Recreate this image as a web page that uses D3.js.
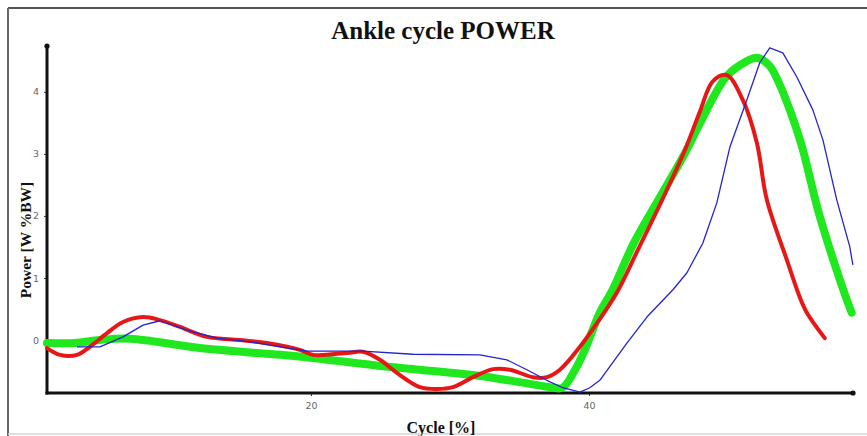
<!DOCTYPE html>
<html>
<head>
<meta charset="utf-8">
<script src="https://cdn.jsdelivr.net/npm/d3@7"></script>
<style>
  html, body { margin: 0; padding: 0; background: #fff; }
  svg { display: block; }
</style>
</head>
<body>
<svg id="chart" width="867" height="436"></svg>
<script>
// Ankle power over the gait cycle: cycle [%] against power [W %BW]
const greenCycle = [1, 3, 4.8, 7, 12, 17.8, 20.1, 25, 27.8, 32.2, 35, 37.2, 38.1, 39, 39.7, 40.8, 41.7, 43.2, 45.1, 47, 48, 49.9, 51.4, 52.1, 53, 53.7, 54.5, 55.3, 56.6, 58.3, 58.9];
const greenPower = [-0.05, -0.05, 0, 0.02, -0.13, -0.24, -0.29, -0.42, -0.48, -0.58, -0.68, -0.76, -0.77, -0.48, -0.16, 0.45, 0.81, 1.55, 2.3, 3.05, 3.5, 4.25, 4.5, 4.55, 4.42, 4.13, 3.68, 3.14, 2.0, 0.81, 0.44];

const redCycle = [1, 1.94, 3.16, 4.09, 5.32, 6.47, 7.91, 9.13, 10.57, 12.51, 14.88, 16.83, 19.2, 20.14, 22.58, 23.73, 24.96, 26.18, 27.83, 29.06, 30.21, 31.65, 33.09, 34.31, 35.96, 36.97, 37.91, 39.35, 40.64, 42.0, 43.45, 45.1, 46.9, 47.98, 48.91, 49.92, 51.07, 52.08, 52.8, 54.24, 55.17, 55.68, 56.97];
const redPower = [-0.13, -0.24, -0.24, -0.11, 0.11, 0.29, 0.37, 0.32, 0.21, 0.05, 0, -0.05, -0.16, -0.24, -0.21, -0.19, -0.32, -0.53, -0.76, -0.79, -0.76, -0.6, -0.47, -0.48, -0.6, -0.6, -0.48, -0.11, 0.29, 0.76, 1.42, 2.18, 3.06, 3.68, 4.17, 4.27, 3.87, 3.18, 2.26, 1.29, 0.69, 0.44, 0.03];

const blueCycle = [3.16, 4.81, 6.47, 7.91, 9.13, 11.07, 13.23, 15.6, 17.76, 19.71, 23.73, 27.33, 32.15, 34.09, 35.53, 36.97, 38.12, 39.35, 40.06, 40.78, 42.73, 44.17, 46.04, 47.04, 48.19, 49.2, 50.14, 51.36, 52.29, 53.01, 53.95, 54.96, 56.11, 56.83, 57.83, 58.77, 58.99];
const bluePower = [-0.11, -0.11, 0.05, 0.24, 0.31, 0.16, 0.03, -0.03, -0.11, -0.18, -0.18, -0.23, -0.24, -0.32, -0.48, -0.65, -0.77, -0.84, -0.77, -0.65, -0.05, 0.37, 0.81, 1.08, 1.56, 2.21, 3.11, 3.87, 4.47, 4.71, 4.63, 4.24, 3.71, 3.23, 2.26, 1.5, 1.21];

const xTicks = [20, 40];
const yTicks = [0, 1, 2, 3, 4];

const svg = d3.select("#chart");

// outer frame
svg.append("line").attr("x1", 8).attr("x2", 867).attr("y1", 8).attr("y2", 8)
  .attr("stroke", "#555").attr("stroke-width", 2);
svg.append("line").attr("x1", 8).attr("x2", 8).attr("y1", 8).attr("y2", 436)
  .attr("stroke", "#666").attr("stroke-width", 2);
svg.append("line").attr("x1", 8).attr("x2", 867).attr("y1", 434).attr("y2", 434)
  .attr("stroke", "#d4d4d4").attr("stroke-width", 1.5);

const x = d3.scaleLinear().domain([1, 59]).range([47, 853]);
const y = d3.scaleLinear().domain([-0.855, 4.74]).range([393, 46]);

// y axis
const yAxis = svg.append("g").attr("transform", `translate(${x(1)},0)`)
  .call(d3.axisLeft(y).tickValues(yTicks).tickSize(3).tickPadding(5).tickFormat(d3.format("d")));
yAxis.select(".domain").remove();
yAxis.selectAll(".tick line").attr("stroke", "#333");
yAxis.selectAll(".tick text").attr("fill", "#666")
  .style("font-family", "DejaVu Sans, sans-serif").style("font-size", "9.5px");

// x axis
const xAxis = svg.append("g").attr("transform", `translate(0,${y(-0.855)})`)
  .call(d3.axisBottom(x).tickValues(xTicks).tickSize(3).tickPadding(6).tickFormat(d3.format("d")));
xAxis.select(".domain").remove();
xAxis.selectAll(".tick line").attr("stroke", "#333");
xAxis.selectAll(".tick text").attr("fill", "#666")
  .style("font-family", "DejaVu Sans, sans-serif").style("font-size", "9.5px");

// axis lines with end markers
svg.append("line").attr("x1", x(1)).attr("x2", x(1)).attr("y1", y(-0.855) + 1.5).attr("y2", y(4.74))
  .attr("stroke", "#111").attr("stroke-width", 3);
svg.append("line").attr("x1", x(1) - 1.5).attr("x2", x(59)).attr("y1", y(-0.855)).attr("y2", y(-0.855))
  .attr("stroke", "#111").attr("stroke-width", 3);
svg.append("circle").attr("cx", x(1)).attr("cy", y(4.74)).attr("r", 2.6).attr("fill", "#111");
svg.append("circle").attr("cx", x(59)).attr("cy", y(-0.855)).attr("r", 2.6).attr("fill", "#111");

// curves
const line = d3.line().x(d => x(d[0])).y(d => y(d[1])).curve(d3.curveCatmullRom.alpha(0.5));
const linear = d3.line().x(d => x(d[0])).y(d => y(d[1]));

svg.append("path").datum(d3.zip(greenCycle, greenPower)).attr("d", line)
  .attr("fill", "none").attr("stroke", "#1fe81f").attr("stroke-width", 8)
  .attr("stroke-linecap", "round").attr("stroke-linejoin", "round");
svg.append("path").datum(d3.zip(redCycle, redPower)).attr("d", line)
  .attr("fill", "none").attr("stroke", "#e81717").attr("stroke-width", 4)
  .attr("stroke-linecap", "round").attr("stroke-linejoin", "round");
svg.append("path").datum(d3.zip(blueCycle, bluePower)).attr("d", linear)
  .attr("fill", "none").attr("stroke", "#2424cc").attr("stroke-width", 1.3)
  .attr("stroke-linejoin", "round");

// titles
svg.append("text").attr("x", 443).attr("y", 39).attr("text-anchor", "middle")
  .style("font-family", "Liberation Serif, Times New Roman, serif").style("font-weight", "bold")
  .style("font-size", "25px").attr("fill", "#111").text("Ankle cycle POWER");
svg.append("text").attr("x", 441).attr("y", 433).attr("text-anchor", "middle")
  .style("font-family", "Liberation Serif, Times New Roman, serif").style("font-weight", "bold")
  .style("font-size", "16px").attr("fill", "#111").text("Cycle [%]");
svg.append("text").attr("transform", "translate(31,240) rotate(-90)").attr("text-anchor", "middle")
  .style("font-family", "Liberation Serif, Times New Roman, serif").style("font-weight", "bold")
  .style("font-size", "15.5px").attr("fill", "#111").text("Power [W %BW]");
</script>
</body>
</html>
